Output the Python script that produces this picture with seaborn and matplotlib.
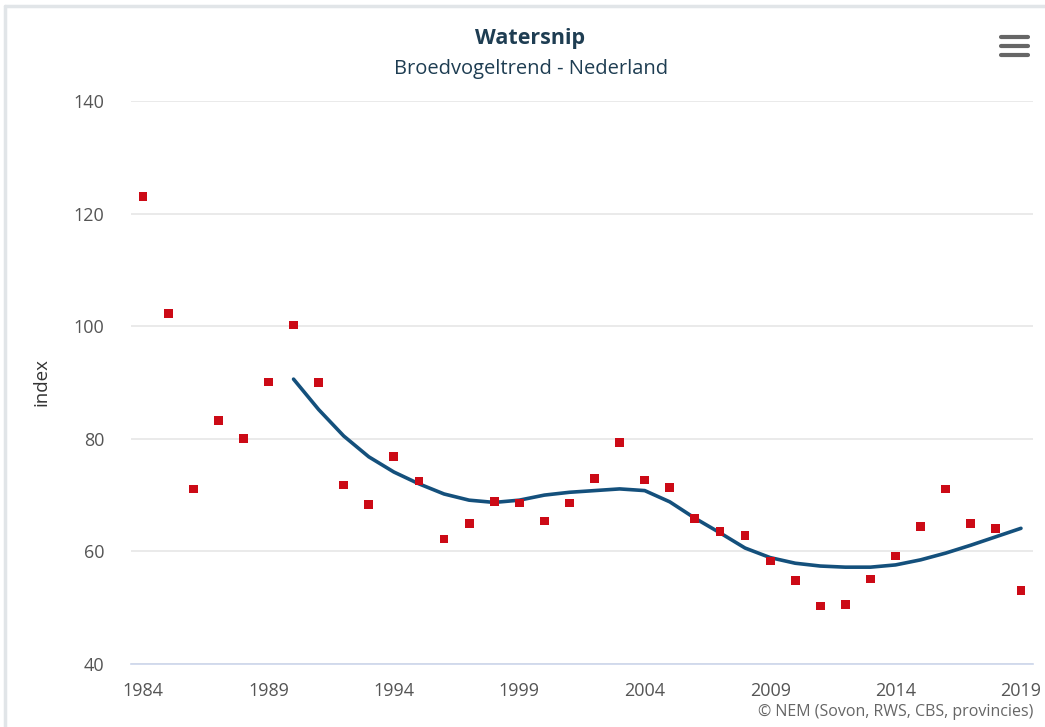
"""
watersnip broedvogeltrend - index per jaar met trendlijn
"""

import matplotlib.pyplot as plt
import matplotlib.lines as mlines
import pandas as pd
import seaborn as sns

# yearly index values (red squares)
years = list(range(1984, 2020))
index_values = [
    123.0, 102.2, 71.1, 83.3, 80.1, 90.1, 100.2, 90.0, 71.8, 68.4,
    76.9, 72.5, 62.2, 65.0, 68.8, 68.6, 65.4, 68.6, 73.0, 79.4,
    72.7, 71.4, 65.9, 63.6, 62.8, 58.3, 54.8, 50.3, 50.6, 55.1,
    59.2, 64.4, 71.1, 65.0, 64.0, 53.1,
]

# trend line (from 1990)
trend_years = list(range(1990, 2020))
trend_values = [
    90.6, 85.2, 80.5, 76.8, 74.1, 72.0, 70.2, 69.1, 68.7, 69.1,
    70.0, 70.5, 70.8, 71.1, 70.8, 68.8, 65.9, 63.3, 60.6, 58.9,
    57.9, 57.4, 57.2, 57.2, 57.6, 58.5, 59.7, 61.1, 62.6, 64.1,
]

x_ticks = [1984, 1989, 1994, 1999, 2004, 2009, 2014, 2019]
y_ticks = [40, 60, 80, 100, 120, 140]

df = pd.DataFrame({"Jaar": years, "index": index_values})
df_trend = pd.DataFrame({"Jaar": trend_years, "trend": trend_values})

sns.set_style("white")
plt.rcParams["font.family"] = ["Open Sans", "DejaVu Sans"]

fig = plt.figure(figsize=(10.45, 7.27), dpi=100)
ax = fig.add_axes([131 / 1045, 63 / 727, 902 / 1045, 563 / 727])

sns.lineplot(x="Jaar", y="trend", data=df_trend, color="#14507c",
             linewidth=2.6, ax=ax, zorder=3)
sns.scatterplot(x="Jaar", y="index", data=df, marker="s", s=40,
                color="#cc0a16", edgecolor="none", ax=ax, zorder=4)

ax.set_xlim(1983.52, 2019.48)
ax.set_ylim(40, 140)
ax.set_xticks(x_ticks)
ax.set_yticks(y_ticks)
ax.set_xticklabels([str(t) for t in x_ticks], fontsize=13, color="#555555")
ax.set_yticklabels([str(t) for t in y_ticks], fontsize=13, color="#555555")

ax.grid(axis="y", color="#e6e6e6", linewidth=1.2)
ax.grid(axis="x", visible=False)
for side in ["top", "right", "left"]:
    ax.spines[side].set_visible(False)
ax.spines["bottom"].set_color("#ccd6eb")
ax.spines["bottom"].set_linewidth(1.2)
ax.tick_params(axis="x", length=12, width=1, color="#ccd6eb", pad=1)
ax.tick_params(axis="y", length=0, pad=19)

ax.set_xlabel("")
ax.set_ylabel("index", fontsize=13.5, color="#333333")
ax.yaxis.set_label_coords(-80 / 902, 0.5)

fig.text(0.507, 0.947, "Watersnip", ha="center", va="center",
         fontsize=15.5, fontweight="bold", color="#1e3d52")
fig.text(0.508, 0.905, "Broedvogeltrend - Nederland", ha="center",
         va="center", fontsize=14.5, color="#1e3d52")
fig.text(1033 / 1045, 1 - 712 / 727, "\u00a9 NEM (Sovon, RWS, CBS, provincies)",
         ha="right", va="center", fontsize=11.5, color="#666666")

# frame lines top and left
fig.add_artist(mlines.Line2D([5 / 1045, 1], [1 - 6 / 727, 1 - 6 / 727],
                             color="#e1e5e8", linewidth=2.5))
fig.add_artist(mlines.Line2D([5 / 1045, 5 / 1045], [0, 1 - 6 / 727],
                             color="#e1e5e8", linewidth=2.5))

# menu icon
for yy in [37, 46, 55]:
    fig.add_artist(mlines.Line2D([1001 / 1045, 1028 / 1045],
                                 [1 - yy / 727, 1 - yy / 727],
                                 color="#666666", linewidth=3,
                                 solid_capstyle="round"))

fig.savefig("out.png", dpi=100)
